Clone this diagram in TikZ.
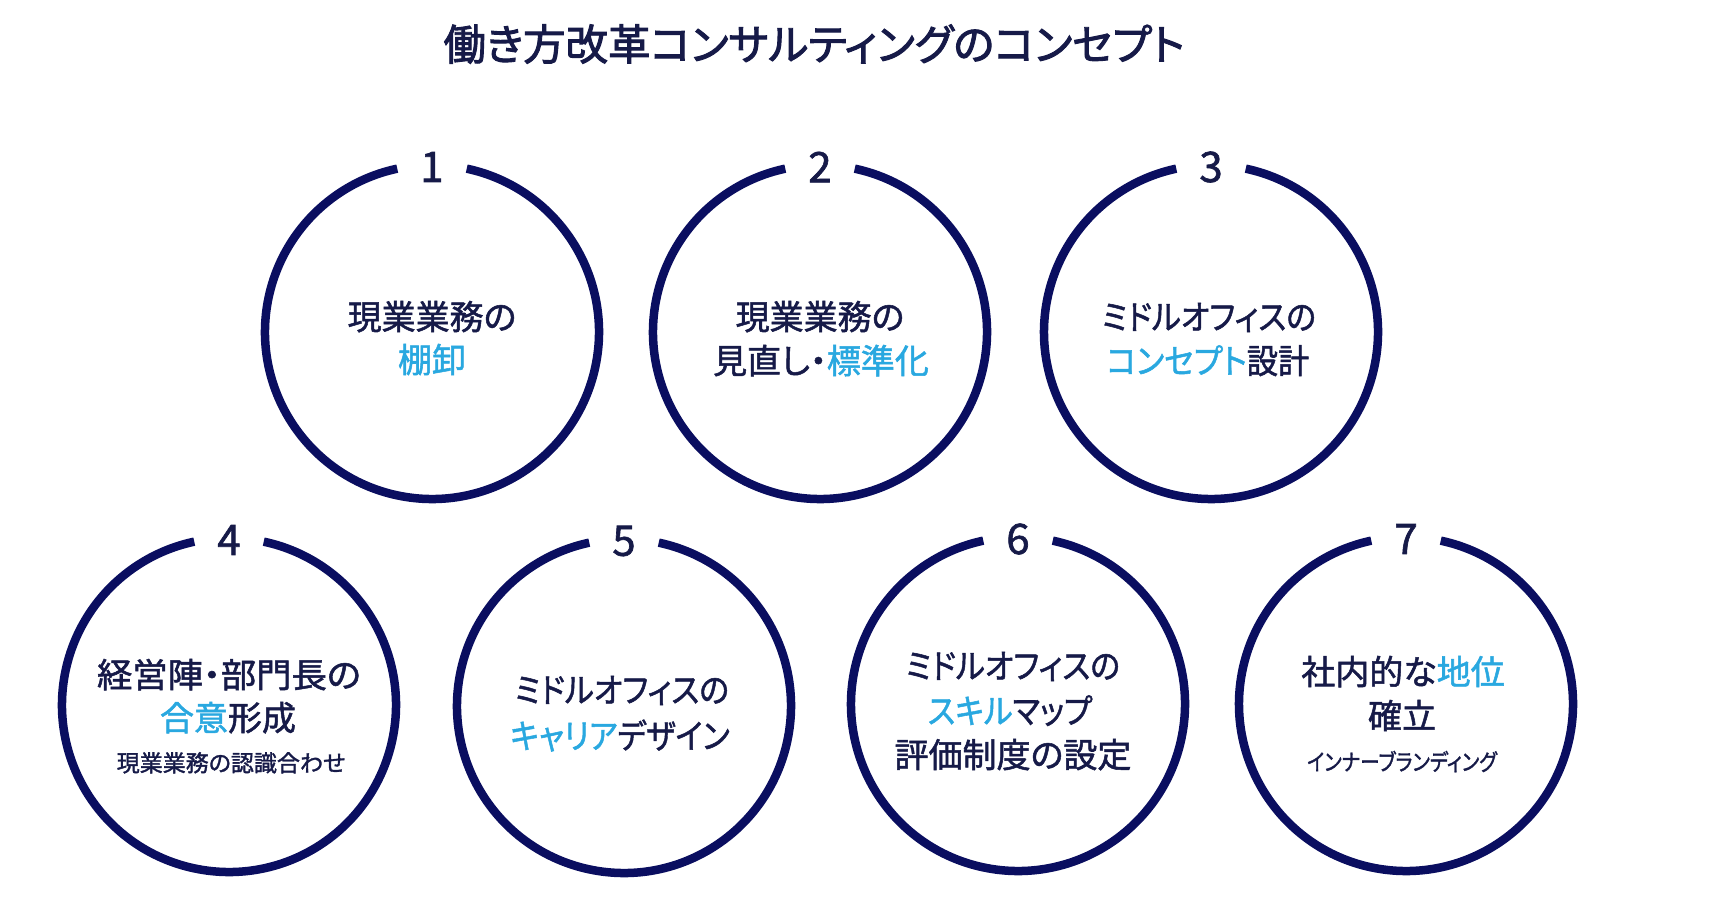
\documentclass[tikz,border=0pt]{standalone}
\usepackage{fontspec}
\newfontfamily\jp[RawFeature=+palt,FakeBold=1.5]{Noto Sans CJK JP}
\newfontfamily\jpt[RawFeature=+palt,FakeBold=2.2]{Noto Sans CJK JP}
\definecolor{ringc}{RGB}{10,14,96}
\definecolor{textc}{RGB}{22,26,72}
\definecolor{hlc}{RGB}{41,168,224}
\newcommand\hlt[1]{\textcolor{hlc}{#1}}
\newcommand\sqz[2]{\scalebox{#1}[1]{#2}}
\begin{document}
\begin{tikzpicture}[x=1pt,y=1pt,
  ring/.style={draw=ringc, line width=8.5pt},
  hub/.style={circle, minimum size=334pt, inner sep=0pt},
  num/.style={font=\jp\fontsize{42}{42}\selectfont, text=textc, inner sep=0pt},
  mainline/.style={font=\jp\fontsize{34}{40}\selectfont, text=textc, inner sep=0pt, text height=0.8em, text depth=0.1em},
  subline/.style={font=\jp\fontsize{23}{28}\selectfont, text=textc, inner sep=0pt, text height=0.8em, text depth=0.1em},
  titlestyle/.style={font=\jpt\fontsize{44}{44}\selectfont, text=textc, inner sep=0pt}]
\path[use as bounding box, fill=white] (0,0) rectangle (1712,-898);

\node[titlestyle] (title) at (814,-44) {\resizebox{741pt}{!}{働き方改革コンサルティングのコンセプト}};

% circle centres
\node[hub] (c1) at (432,-332) {};
\node[hub] (c2) at (820,-332) {};
\node[hub] (c3) at (1211,-332) {};
\node[hub] (c4) at (229,-705) {};
\node[hub] (c5) at (624,-706) {};
\node[hub] (c6) at (1018,-704) {};
\node[hub] (c7) at (1406,-704) {};

\foreach \c/\n in {c1/1,c2/2,c3/3,c4/4,c5/5,c6/6,c7/7}{
  \draw[ring] ([shift={(78:167)}]\c.center) arc[start angle=78, end angle=-258, radius=167];
  \node[num] (n\n) at ([yshift=165pt]\c.center) {\n};
}

% texts
\node[mainline] (t1a) at (432,-326) {現業業務の};
\node[mainline] (t1b) at (432,-369) {\hlt{棚卸}};

\node[mainline] (t2a) at (820,-326) {現業業務の};
\node[mainline] (t2b) at (821,-370) {見直し・\hlt{標準化}};

\node[mainline] (t3a) at (1209,-326) {\sqz{0.91}{ミドルオフィスの}};
\node[mainline] (t3b) at (1208,-370) {\sqz{0.92}{\hlt{コンセプト}設計}};

\node[mainline] (t4a) at (229,-684) {\sqz{1.04}{経営陣・部門長の}};
\node[mainline] (t4b) at (228,-727) {\hlt{合意}形成};
\node[subline] (t4c) at (231,-768) {現業業務の認識合わせ};

\node[mainline] (t5a) at (622,-699) {\sqz{0.91}{ミドルオフィスの}};
\node[mainline] (t5b) at (620,-745) {\sqz{0.9}{\hlt{キャリア}デザイン}};

\node[mainline] (t6a) at (1013,-675) {\sqz{0.91}{ミドルオフィスの}};
\node[mainline] (t6b) at (1010,-720) {\sqz{0.9}{\hlt{スキル}マップ}};
\node[mainline] (t6c) at (1013,-764) {評価制度の設定};

\node[mainline] (t7a) at (1403,-681) {社内的な\hlt{地位}};
\node[mainline] (t7b) at (1402,-725) {確立};
\node[subline] (t7c) at (1402,-767) {\sqz{0.85}{インナーブランディング}};
\end{tikzpicture}
\end{document}
